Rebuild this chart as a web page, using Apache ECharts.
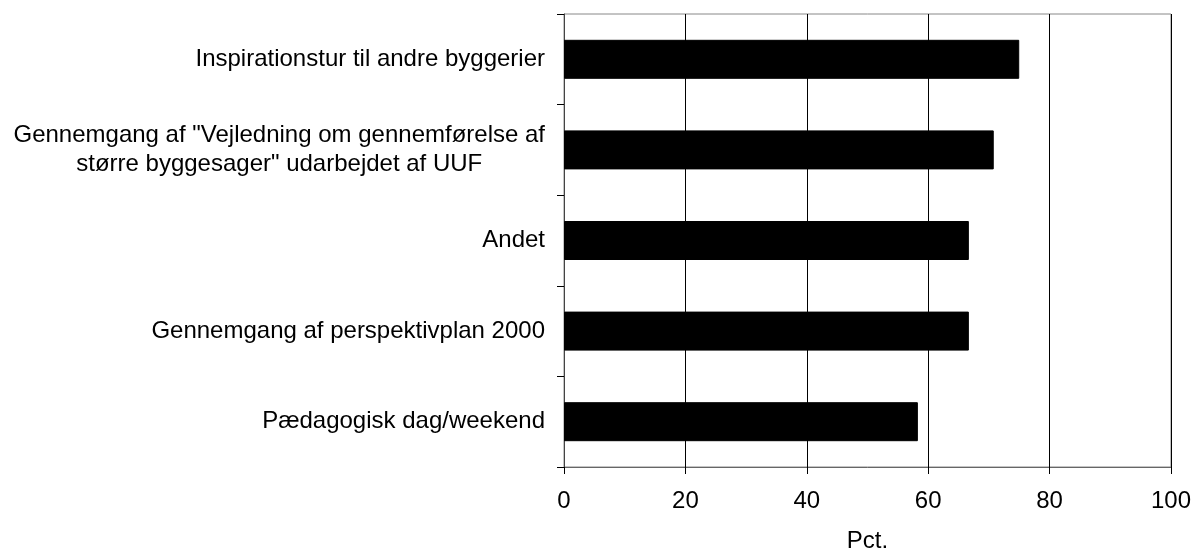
<!DOCTYPE html>
<html>
<head>
<meta charset="utf-8">
<script src="https://cdn.jsdelivr.net/npm/echarts@6/dist/echarts.min.js"></script>
<style>
  html, body { margin: 0; padding: 0; background: #fff; }
  #chart { width: 1194px; height: 558px; }
</style>
</head>
<body>
<div id="chart"></div>
<script>
// categories top to bottom
const categories = [
  "Inspirationstur til andre byggerier",
  'Gennemgang af "Vejledning om gennemførelse af\nstørre byggesager" udarbejdet af UUF',
  "Andet",
  "Gennemgang af perspektivplan 2000",
  "Pædagogisk dag/weekend",
];
const values = [75, 70.8, 66.7, 66.7, 58.3];
const axisName = "Pct.";

const font = '"Liberation Sans", Arial, sans-serif';

const chart = echarts.init(document.getElementById("chart"));
chart.setOption({
  animation: false,
  textStyle: { fontFamily: font },
  grid: {
    left: 564,
    right: 23,
    top: 14,
    bottom: 86,
    show: true,
    borderColor: "#888",
    borderWidth: 1,
  },
  xAxis: {
    type: "value",
    min: 0,
    max: 100,
    interval: 20,
    name: axisName,
    nameLocation: "middle",
    nameGap: 62,
    nameTextStyle: { fontSize: 24, color: "#000", fontFamily: font },
    axisLine: { show: true, lineStyle: { color: "#666", width: 1 } },
    axisTick: { show: true, length: 7, lineStyle: { color: "#000" } },
    axisLabel: { fontSize: 24, color: "#000", margin: 22, fontFamily: font },
    splitLine: { show: true, lineStyle: { color: "#000", width: 1 } },
  },
  yAxis: {
    type: "category",
    data: categories,
    inverse: true,
    axisLine: { show: true, lineStyle: { color: "#444", width: 1 } },
    axisTick: { show: true, length: 7, lineStyle: { color: "#000" } },
    axisLabel: {
      margin: 19,
      fontSize: 24,
      color: "#000",
      fontFamily: font,
      formatter: (val) =>
        val
          .split("\n")
          .map((line) => `{c|${line}}`)
          .join("\n"),
      rich: {
        c: {
          fontSize: 24,
          lineHeight: 29,
          align: "center",
          color: "#000",
          fontFamily: font,
        },
      },
    },
    splitLine: { show: false },
  },
  series: [
    {
      type: "bar",
      data: values,
      barWidth: 39,
      itemStyle: { color: "#000", borderColor: "#000", borderWidth: 1 },
    },
  ],
});
</script>
</body>
</html>
